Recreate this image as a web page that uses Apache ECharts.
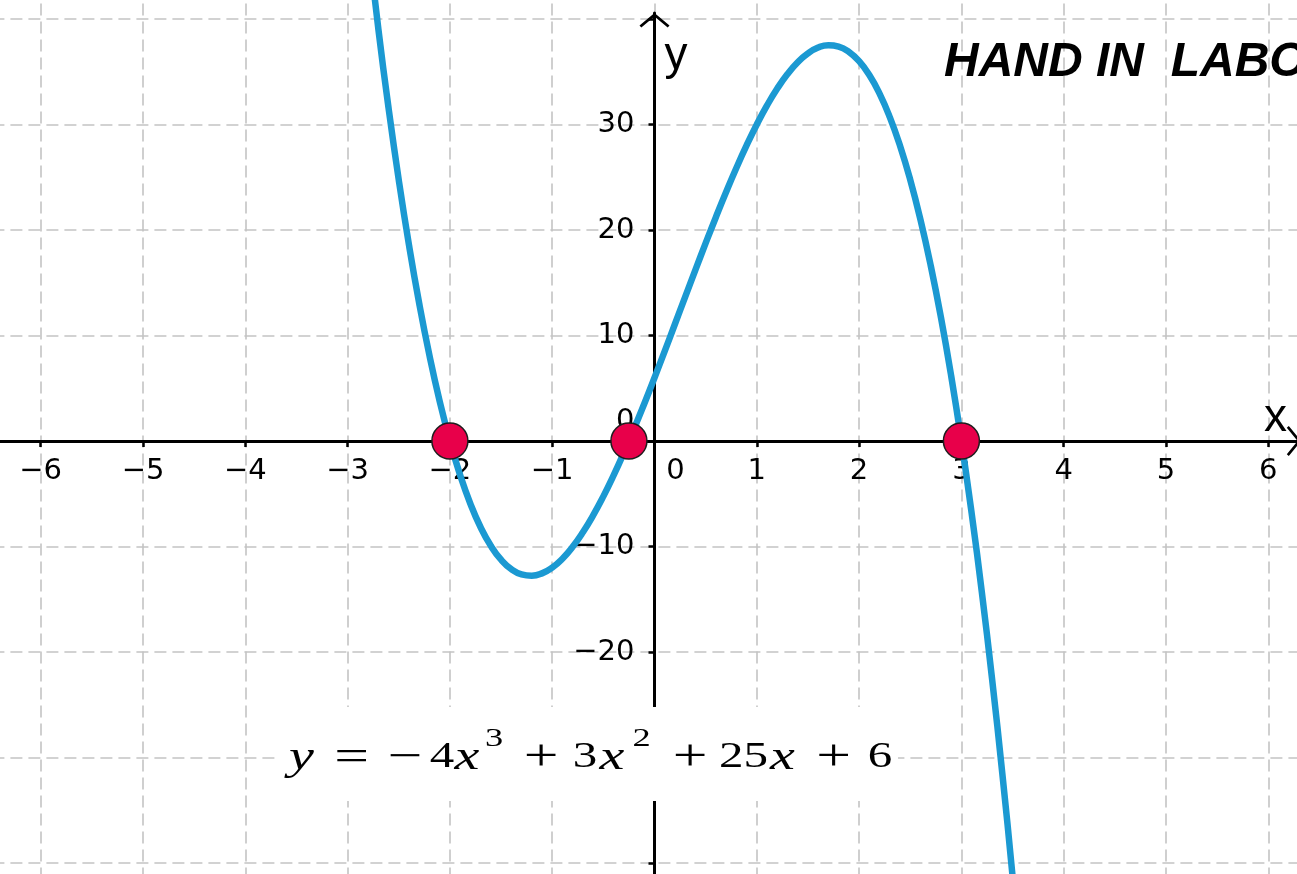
<!DOCTYPE html>
<html>
<head>
<meta charset="utf-8">
<script src="https://cdn.jsdelivr.net/npm/echarts@6/dist/echarts.min.js"></script>
<style>
html,body{margin:0;padding:0;background:#ffffff;}
#chart{width:1297px;height:874px;}
</style>
</head>
<body>
<div id="chart"></div>
<script>
// ---------------- data ----------------
const curveX = [-2.8,-2.7,-2.6,-2.5,-2.4,-2.3,-2.2,-2.1,-2.0,-1.9,-1.8,-1.7,-1.6,-1.5,-1.4,-1.3,-1.2,-1.1,-1.0,-0.9,-0.8,-0.7,-0.6,-0.5,-0.4,-0.3,-0.2,-0.1,0.0,0.1,0.2,0.3,0.4,0.5,0.6,0.7,0.8,0.9,1.0,1.1,1.2,1.3,1.4,1.5,1.6,1.7,1.8,1.9,2.0,2.1,2.2,2.3,2.4,2.5,2.6,2.7,2.8,2.9,3.0,3.1,3.2,3.3,3.4,3.5,3.6];
const curveY = [47.328,39.102,31.584,24.75,18.576,13.038,8.112,3.774,0,-3.234,-5.952,-8.178,-9.936,-11.25,-12.144,-12.642,-12.768,-12.546,-12,-11.154,-10.032,-8.658,-7.056,-5.25,-3.264,-1.122,1.152,3.534,6,8.526,11.088,13.662,16.224,18.75,21.216,23.598,25.872,28.014,30,31.806,33.408,34.782,35.904,36.75,37.296,37.518,37.392,36.894,36,34.686,32.928,30.702,27.984,24.75,20.976,16.638,11.712,6.174,0,-6.834,-14.352,-22.578,-31.536,-41.25,-51.744];
const rootX = [-2, -0.25, 3];
const rootY = [0, 0, 0];
const xTickValues = [-6,-5,-4,-3,-2,-1,0,1,2,3,4,5,6];
const yTickValues = [-40,-30,-20,-10,0,10,20,30,40];
const yLabelValues = [-20,-10,0,10,20,30];
const titleText = 'HAND IN  LABO';
const eqTokens = [['y','v'],['=','op'],['\u2212','op'],['4','n'],['x','v'],['3','s'],['+','op'],['3','n'],['x','v'],['2','s'],['+','op'],['25','n'],['x','v'],['+','op'],['6','n']];

// ---------------- layout ----------------
const W = 1297, H = 874;
const X0 = 654.5, XU = 102.3;   // pixel of x=0, pixels per x unit
const Y0 = 441, YU = 10.55;     // pixel of y=0, pixels per y unit
const AXIS_TOP = 13;
const xMin = -X0 / XU, xMax = (W - X0) / XU;
const yMax = (Y0 - AXIS_TOP) / YU, yMin = -(H - Y0) / YU;
// extended grid used for dashed grid lines and the plotted marks (nice bounds)
const gxMin = -7, gxMax = 7, gyMin = -50, gyMax = 50;
const gLeft = X0 + gxMin * XU, gRight = W - (X0 + gxMax * XU);
const gTop = Y0 - gyMax * YU, gBottom = H - (Y0 - gyMin * YU);

const EQ_SCALE = 1.4;
const EQ_WIDTHS = [43, 57, 50, 24, 26, 28, 66, 22, 32, 27, 70, 37, 41, 61, 32];

const labelFont = 'DejaVu Sans';
const minus = v => v < 0 ? '\u2212' + Math.abs(v) : String(v);
const chevron = 'path://M15,0 L30,12.4 L28.2,14.4 L15,3.6 L1.8,14.4 L0,12.4 Z';

// equation rich text
const kindStyle = {
  v:  {fontFamily: 'Liberation Serif', fontStyle: 'italic', fontSize: 40, lineHeight: 72},
  n:  {fontFamily: 'Liberation Serif', fontSize: 35, lineHeight: 72},
  op: {fontFamily: 'Liberation Serif', fontSize: 44, lineHeight: 72},
  s:  {fontFamily: 'Liberation Serif', fontSize: 26, lineHeight: 30, padding: [0, 0, 38, 0]}
};
const eqRich = {};
let eqText = '';
eqTokens.forEach((t, i) => {
  eqRich['t' + i] = Object.assign({}, kindStyle[t[1]], {
    width: EQ_WIDTHS[i] / EQ_SCALE, align: 'center', verticalAlign: 'middle', color: '#000'
  });
  eqText += '{t' + i + '|' + t[0] + '}';
});

const dashed = {show: true, lineStyle: {color: '#c4c4c4', width: 1.6, type: [12, 6]}};
const gridBase = {containLabel: false, outerBoundsMode: 'none'};
const hiddenAxis = (gi) => ({type: 'value', gridIndex: gi, min: 0, max: 1, show: false,
  axisLine: {show: false}, axisTick: {show: false}, axisLabel: {show: false}, splitLine: {show: false}});
const labelRich = (pad) => ({o: {fontFamily: labelFont, fontSize: 29, color: '#000', padding: pad}});

const chart = echarts.init(document.getElementById('chart'), null, {renderer: 'canvas'});
chart.setOption({
  animation: false,
  backgroundColor: '#ffffff',
  grid: [
    Object.assign({left: gLeft, right: gRight, top: gTop, bottom: gBottom}, gridBase),
    // grid whose bottom edge is the line y = 0 (carries the x axis)
    Object.assign({left: 0, right: 0, top: AXIS_TOP, bottom: H - Y0}, gridBase),
    // grid whose left edge is the line x = 0 (carries the y axis)
    Object.assign({left: X0, right: 0, top: AXIS_TOP, bottom: 0}, gridBase)
  ],
  xAxis: [
    {type: 'value', gridIndex: 0, min: gxMin, max: gxMax, interval: 1,
     axisLine: {show: false}, axisTick: {show: false}, axisLabel: {show: false},
     splitLine: dashed},
    {type: 'value', gridIndex: 1, min: xMin, max: xMax, position: 'bottom',
     name: 'x', nameLocation: 'end', nameGap: -33,
     nameTextStyle: {fontFamily: 'Liberation Sans', fontSize: 46, color: '#000', align: 'left', verticalAlign: 'bottom'},
     axisLine: {show: true, onZero: false, symbol: ['none', chevron], symbolSize: [30, 14.4], symbolOffset: [0, -3],
                lineStyle: {color: '#000', width: 3}},
     axisTick: {show: true, customValues: xTickValues, length: 6, lineStyle: {color: '#000', width: 2.5}},
     axisLabel: {show: true, customValues: xTickValues, margin: 16, color: '#000', hideOverlap: false,
                 fontFamily: labelFont, fontSize: 29,
                 formatter: v => v === 0 ? '{o|0}' : minus(v),
                 rich: labelRich([0, 0, 0, 42])},
     splitLine: {show: false}},
    hiddenAxis(2)
  ],
  yAxis: [
    {type: 'value', gridIndex: 0, min: gyMin, max: gyMax, interval: 10,
     axisLine: {show: false}, axisTick: {show: false}, axisLabel: {show: false},
     splitLine: dashed},
    hiddenAxis(1),
    {type: 'value', gridIndex: 2, min: yMin, max: yMax, position: 'left',
     name: 'y', nameLocation: 'end', nameGap: -20,
     nameTextStyle: {fontFamily: 'Liberation Sans', fontSize: 46, color: '#000', align: 'left', verticalAlign: 'top', padding: [0, 0, 0, 10]},
     axisLine: {show: true, onZero: false, symbol: ['none', chevron], symbolSize: [30, 14.4], symbolOffset: [0, -7.2],
                lineStyle: {color: '#000', width: 3}},
     axisTick: {show: true, customValues: yTickValues, length: 6, lineStyle: {color: '#000', width: 2.5}},
     axisLabel: {show: true, customValues: yLabelValues, margin: 20, color: '#000', hideOverlap: false,
                 fontFamily: labelFont, fontSize: 29,
                 formatter: v => v === 0 ? '{o|0}' : minus(v),
                 rich: labelRich([0, 0, 40, 0])},
     splitLine: {show: false}}
  ],
  series: [
    {type: 'line', xAxisIndex: 0, yAxisIndex: 0, z: 3,
     data: curveX.map((x, i) => [x, curveY[i]]),
     smooth: true, showSymbol: false, symbol: 'none',
     lineStyle: {color: '#1b99d2', width: 6.5, cap: 'round', join: 'round'}},
    {type: 'scatter', xAxisIndex: 0, yAxisIndex: 0, z: 4,
     data: rootX.map((x, i) => [x, rootY[i]]),
     symbol: 'circle', symbolSize: 36,
     itemStyle: {color: '#e8004a', borderColor: '#1e1e1e', borderWidth: 1.5, opacity: 1}}
  ],
  graphic: [
    {type: 'rect', z: 100, shape: {x: 278, y: 707, width: 620, height: 94}, style: {fill: '#ffffff'}},
    {type: 'text', z: 101, x: 280, y: 758, scaleX: EQ_SCALE, scaleY: 1,
     style: {text: eqText, rich: eqRich, align: 'left', verticalAlign: 'middle',
             fontFamily: 'Liberation Serif', fontSize: 35, fill: '#000'}},
    {type: 'text', z: 101, x: 944, y: 63,
     style: {text: titleText, align: 'left', verticalAlign: 'middle',
             fontFamily: 'Liberation Sans', fontStyle: 'italic', fontWeight: 'bold', fontSize: 48, fill: '#000'}}
  ]
});
</script>
</body>
</html>
